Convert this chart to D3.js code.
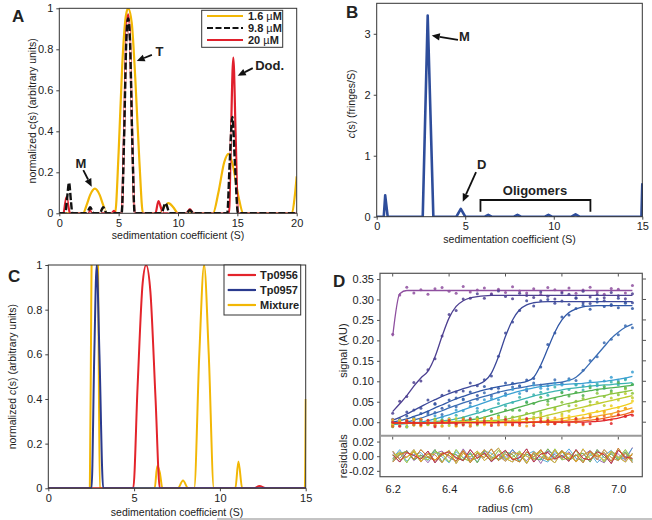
<!DOCTYPE html>
<html><head><meta charset="utf-8">
<script src="https://cdn.jsdelivr.net/npm/d3@7"></script>
<style>body{margin:0;background:#fff} text{font-family:'Liberation Sans',Arial,sans-serif;fill:#222}</style>
</head><body><svg id="c" width="652" height="520"></svg>
<script>
// ---------- Panel A data (s [S], normalized c(s)) ----------
const seriesA_names = ["1.6 \u00b5M", "9.8 \u00b5M", "20 \u00b5M"];
const conc16 = [[0,0],[2.0,0],[2.3,0.04],[2.6,0.09],[3.0,0.12],[3.4,0.09],[3.7,0.04],[4.0,0],[4.7,0],[5.0,0.3],[5.3,0.72],[5.6,0.96],[5.8,1.0],[6.1,0.93],[6.4,0.66],[6.75,0.25],[7.05,0],[8.5,0],[8.8,0.03],[9.2,0.05],[9.6,0.03],[10.0,0],[12.95,0],[13.4,0.1],[13.9,0.25],[14.25,0.29],[14.6,0.24],[15.1,0.08],[15.5,0],[19.6,0],[19.85,0.09],[20,0.18]];
const conc98 = [[0,0],[0.5,0],[0.65,0.07],[0.82,0.15],[0.98,0.06],[1.1,0],[2.3,0],[2.6,0.03],[2.9,0],[3.4,0],[3.7,0.03],[4.0,0],[5.25,0],[5.45,0.35],[5.65,0.85],[5.8,0.95],[5.95,0.85],[6.15,0.35],[6.35,0],[8.6,0],[8.95,0.05],[9.3,0],[10.7,0],[11.0,0.015],[11.3,0],[14.15,0],[14.35,0.24],[14.58,0.47],[14.8,0.24],[15.05,0],[20,0]];
const conc20 = [[0,0],[0.35,0],[0.5,0.05],[0.62,0.08],[0.75,0.04],[0.9,0],[2.4,0],[2.6,0.02],[2.8,0],[4.4,0],[4.6,0.012],[4.8,0],[5.25,0],[5.45,0.38],[5.65,0.88],[5.8,0.97],[5.95,0.86],[6.15,0.36],[6.35,0],[8.1,0],[8.35,0.06],[8.6,0.02],[8.75,0],[10.7,0],[11.0,0.02],[11.3,0],[14.3,0],[14.45,0.35],[14.66,0.76],[14.87,0.35],[15.05,0],[20,0]];
const ticksA_x = [0,5,10,15,20];
const ticksA_y = [0,0.2,0.4,0.6,0.8,1];

// ---------- Panel B data (s, c(s) fringes/S) ----------
const distB = [[0,0],[0.4,0],[0.48,0.35],[0.62,0],[2.6,0],[2.88,3.3],[3.2,0],[4.5,0],[4.75,0.13],[5.0,0],[6.1,0],[6.3,0.03],[6.5,0],[7.75,0],[7.95,0.03],[8.15,0],[9.5,0],[9.7,0.03],[9.9,0],[11.0,0],[11.23,0.04],[11.45,0],[14.95,0],[15,0.55]];
const ticksB_x = [0,5,10,15];
const ticksB_y = [0,1,2,3];

// ---------- Panel C data ----------
const seriesC_names = ["Tp0956", "Tp0957", "Mixture"];
const tp0956 = [[0,0],[4.95,0],[5.2,0.45],[5.5,0.92],[5.7,1.0],[5.95,0.88],[6.25,0.4],[6.5,0],[12.0,0],[12.3,0.01],[12.7,0],[15,0]];
const tp0957 = [[0,0],[2.52,0],[2.68,0.6],[2.82,1.0],[2.98,0.6],[3.2,0],[15,0]];
const mixture = [[0,0],[2.42,0],[2.5,0.8],[2.72,2.2],[2.92,0.8],[3.0,0],[6.2,0],[6.35,0.1],[6.5,0.07],[6.65,0],[7.55,0],[7.85,0.035],[8.15,0],[8.5,0],[8.8,0.6],[9.08,1.0],[9.35,0.6],[9.65,0],[10.9,0],[11.08,0.12],[11.3,0],[14.95,0],[15,0.4]];
const ticksC_x = [0,5,10,15];
const ticksC_y = [0,0.2,0.4,0.6,0.8,1];

// ---------- Panel D data (radius grid, fitted scans, residuals) ----------
const radii = [6.200,6.225,6.250,6.275,6.300,6.325,6.350,6.375,6.400,6.425,6.450,6.475,6.500,6.525,6.550,6.575,6.600,6.625,6.650,6.675,6.700,6.725,6.750,6.775,6.800,6.825,6.850,6.875,6.900,6.925,6.950,6.975,7.000,7.025,7.050];
const scan1 = [0.210,0.314,0.322,0.322,0.322,0.322,0.322,0.322,0.322,0.322,0.322,0.322,0.322,0.322,0.322,0.322,0.322,0.322,0.322,0.322,0.322,0.322,0.322,0.322,0.322,0.322,0.322,0.322,0.322,0.322,0.322,0.322,0.322,0.322,0.322];
const scan2 = [0.026,0.045,0.065,0.088,0.108,0.125,0.160,0.210,0.255,0.283,0.297,0.304,0.307,0.309,0.310,0.310,0.310,0.310,0.310,0.310,0.310,0.310,0.310,0.310,0.310,0.310,0.310,0.310,0.310,0.310,0.310,0.310,0.310,0.310,0.310];
const scan3 = [0.005,0.012,0.020,0.029,0.038,0.047,0.055,0.063,0.070,0.076,0.082,0.087,0.092,0.100,0.120,0.160,0.210,0.250,0.275,0.287,0.292,0.294,0.295,0.295,0.295,0.295,0.295,0.295,0.295,0.295,0.295,0.295,0.295,0.295,0.295];
const scan4 = [0.000,0.004,0.008,0.014,0.020,0.027,0.035,0.042,0.050,0.057,0.063,0.069,0.074,0.079,0.083,0.087,0.090,0.093,0.096,0.100,0.110,0.140,0.180,0.220,0.250,0.268,0.277,0.282,0.284,0.285,0.285,0.285,0.285,0.285,0.285];
const scan5 = [-0.005,-0.003,0.000,0.005,0.010,0.016,0.022,0.028,0.035,0.041,0.047,0.053,0.058,0.063,0.068,0.073,0.077,0.081,0.084,0.087,0.090,0.092,0.094,0.096,0.098,0.102,0.110,0.125,0.145,0.165,0.185,0.205,0.220,0.232,0.240];
const scan6 = [-0.005,-0.004,-0.003,-0.001,0.000,0.004,0.008,0.013,0.018,0.024,0.030,0.036,0.042,0.048,0.054,0.060,0.066,0.071,0.076,0.080,0.084,0.087,0.089,0.091,0.092,0.093,0.094,0.095,0.097,0.098,0.100,0.102,0.105,0.108,0.112];
const scan7 = [-0.004,-0.004,-0.003,-0.002,-0.001,0.000,0.001,0.003,0.005,0.008,0.012,0.017,0.022,0.027,0.033,0.038,0.044,0.049,0.054,0.059,0.064,0.068,0.072,0.076,0.079,0.082,0.084,0.086,0.088,0.090,0.091,0.092,0.094,0.095,0.097];
const scan8 = [-0.003,-0.003,-0.003,-0.002,-0.002,-0.001,-0.001,0.000,0.001,0.002,0.004,0.006,0.008,0.012,0.017,0.022,0.027,0.032,0.037,0.042,0.047,0.052,0.056,0.060,0.064,0.068,0.071,0.074,0.077,0.080,0.082,0.084,0.086,0.088,0.090];
const scan9 = [-0.002,-0.002,-0.002,-0.002,-0.001,-0.001,-0.001,0.000,0.000,0.000,0.001,0.001,0.002,0.003,0.004,0.005,0.007,0.011,0.015,0.019,0.024,0.028,0.033,0.037,0.042,0.046,0.050,0.054,0.058,0.062,0.065,0.069,0.072,0.075,0.078];
const scan10 = [-0.002,-0.002,-0.002,-0.001,-0.001,-0.001,-0.001,0.000,0.000,0.000,0.000,0.001,0.001,0.001,0.002,0.002,0.003,0.004,0.006,0.008,0.010,0.013,0.017,0.021,0.025,0.029,0.033,0.037,0.041,0.045,0.049,0.053,0.057,0.061,0.065];
const scan11 = [-0.001,-0.001,-0.001,-0.001,-0.001,-0.001,-0.001,0.000,0.000,0.000,0.000,0.000,0.000,0.000,0.001,0.001,0.001,0.001,0.001,0.001,0.001,0.002,0.004,0.006,0.009,0.012,0.015,0.018,0.022,0.025,0.029,0.033,0.037,0.042,0.048];
const scan12 = [-0.001,-0.001,-0.001,-0.001,-0.001,-0.001,-0.001,-0.001,0.000,0.000,0.000,0.000,0.000,0.000,0.000,0.000,0.001,0.001,0.001,0.001,0.001,0.001,0.001,0.002,0.003,0.005,0.007,0.009,0.012,0.015,0.018,0.021,0.025,0.030,0.035];
const scan13 = [-0.002,-0.002,-0.002,-0.002,-0.002,-0.002,-0.002,-0.002,-0.001,-0.001,-0.001,-0.001,-0.001,-0.001,-0.001,-0.001,0.000,0.000,0.000,0.000,0.000,0.000,0.000,0.000,0.000,0.001,0.002,0.003,0.005,0.007,0.010,0.013,0.016,0.020,0.025];
const scan14 = [-0.002,-0.002,-0.002,-0.002,-0.002,-0.002,-0.002,-0.002,-0.002,-0.002,-0.001,-0.001,-0.001,-0.001,-0.001,-0.001,-0.001,-0.001,-0.001,-0.001,0.000,0.000,0.000,0.000,0.000,0.000,0.000,0.000,0.001,0.002,0.004,0.007,0.010,0.015,0.020];
const scansD = [scan1,scan2,scan3,scan4,scan5,scan6,scan7,scan8,scan9,scan10,scan11,scan12,scan13,scan14];
// residuals (units of 0.001), one typed row per group of scans
const resid0 = [5,-3,8,-6,2,-9,4,7,-2,-7,10,-4,1,6,-8,3,-5,9,-1,-6,4,-10,7,2,-3,6,-7,1,8,-4,-9,5,3,-6,12];
const resid1 = [-4,6,-2,9,-7,3,-5,1,8,-10,4,-1,7,-6,2,11,-3,-8,5,0,-5,8,-2,-9,6,3,-7,10,-4,2,-6,7,-1,-8,4];
const resid2 = [2,-8,5,1,-4,7,-9,3,6,-2,-6,9,-3,4,-7,1,8,-5,-2,10,-8,3,5,-4,1,-7,9,-3,-5,6,2,-10,8,-1,-3];
const resid3 = [-6,3,7,-5,1,-2,9,-8,4,2,-6,5,-9,8,-1,-4,6,2,-7,3,-3,-5,10,-2,7,-6,1,4,-8,9,-2,3,-5,6,-7];
const resid4 = [7,-5,-1,6,-8,4,2,-9,5,-3,8,-6,-2,9,-4,1,-7,5,3,-10,6,-1,-5,8,-3,4,-8,2,6,-5,9,-2,-6,4,-9];
const resid5 = [-3,9,-7,2,5,-6,8,-1,-9,6,-2,3,-8,7,4,-5,-1,9,-6,2,7,-4,-8,5,-1,10,-3,-6,4,-9,1,8,-4,-2,11];
const resid6 = [1,4,-9,7,-2,-5,6,3,-8,9,-3,-7,5,2,-6,8,-4,-1,7,-9,3,5,-6,10,-5,-2,8,-7,1,4,-8,6,-3,9,-5];
const resid7 = [-8,2,6,-4,9,-1,-6,5,1,-7,7,-9,4,-2,10,-6,3,-3,-8,6,-1,9,-5,-3,8,-4,2,-9,7,-1,5,-7,11,-4,2];
const residRows = [resid0,resid1,resid2,resid3,resid4,resid5,resid6,resid7,resid3,resid6,resid1,resid4,resid7,resid2];
const ticksD_x = [6.2,6.4,6.6,6.8,7.0];
const ticksD_y = [0,0.05,0.10,0.15,0.20,0.25,0.30,0.35];
const ticksD_r = [-0.02,0,0.02];

// ---------- styling ----------
const colA = ["#f2b705","#111111","#e0202c"];
const colB = "#2e4d9b";
const colC = ["#e3242b","#2a3a8e","#f2b705"];
const colD = ["#8e4f9f","#4d3f90","#3c4899","#2f56a5","#3a6cb3","#3a9fd2","#3bb3b0","#4fb04f","#8cc43c","#bfcc2f","#f0cf1e","#f5a524","#ef6a22","#e1262b"];

const svg = d3.select("#c");
const defs = svg.append("defs");
let clipN = 0;
function clip(x0,y0,x1,y1){const id="cl"+(clipN++);defs.append("clipPath").attr("id",id).append("rect").attr("x",x0).attr("y",y0).attr("width",x1-x0).attr("height",y1-y0);return "url(#"+id+")";}

function axes(x, y, xt, yt, fx, fy, tfs){
  const [x0,x1]=x.range(), [y0,y1]=y.range();
  const gx = svg.append("g").attr("transform",`translate(0,${y0})`)
    .call(d3.axisBottom(x).tickValues(xt).tickSize(3).tickSizeOuter(0).tickPadding(3).tickFormat(fx));
  const gy = svg.append("g").attr("transform",`translate(${x0},0)`)
    .call(d3.axisLeft(y).tickValues(yt).tickSize(3).tickSizeOuter(0).tickPadding(3).tickFormat(fy));
  [gx,gy].forEach(g=>{g.select(".domain").remove();g.selectAll("line").attr("stroke","#444");
    g.selectAll("text").attr("font-size",tfs||11).attr("fill","#222").style("font-family","'Liberation Sans',Arial,sans-serif");});
  svg.append("rect").attr("x",x0).attr("y",y1).attr("width",x1-x0).attr("height",y0-y1)
    .attr("fill","none").attr("stroke","#333").attr("stroke-width",1);
}
function arrow(x1,y1,x2,y2){
  const a=Math.atan2(y2-y1,x2-x1), L=8, W=3.6;
  const bx=x2-L*Math.cos(a), by=y2-L*Math.sin(a);
  svg.append("line").attr("x1",x1).attr("y1",y1).attr("x2",bx).attr("y2",by).attr("stroke","#111").attr("stroke-width",1.8);
  svg.append("path").attr("d",`M${x2},${y2}L${bx-W*Math.sin(a)},${by+W*Math.cos(a)}L${bx+W*Math.sin(a)},${by-W*Math.cos(a)}Z`).attr("fill","#111");
}
function label(t,x,y){svg.append("text").attr("x",x).attr("y",y).attr("font-size",17).attr("font-weight","bold").attr("fill","#111").text(t);}
function ann(t,x,y,anchor){svg.append("text").attr("x",x).attr("y",y).attr("font-size",13).attr("font-weight","bold").attr("fill","#111").attr("text-anchor",anchor||"start").attr("dominant-baseline","middle").text(t);}
const fmtG = d3.format("~g");

// ================= Panel A =================
{
  const x=d3.scaleLinear().domain([0,20]).range([59.3,296.7]);
  const y=d3.scaleLinear().domain([0,1]).range([213.3,8.3]);
  const line=d3.line().x(d=>x(d[0])).y(d=>y(d[1])).curve(d3.curveMonotoneX);
  const g=svg.append("g").attr("clip-path",clip(59.3,8.3,296.7,213.3));
  g.append("path").attr("d",line(conc16)).attr("fill","none").attr("stroke",colA[0]).attr("stroke-width",2.2);
  g.append("path").attr("d",line(conc20)).attr("fill","none").attr("stroke",colA[2]).attr("stroke-width",2.2);
  g.append("path").attr("d",line(conc98)).attr("fill","none").attr("stroke","#fff").attr("stroke-width",1.2);
  g.append("path").attr("d",line(conc98)).attr("fill","none").attr("stroke",colA[1]).attr("stroke-width",2.4).attr("stroke-dasharray","7,2.5");
  axes(x,y,ticksA_x,ticksA_y,fmtG,fmtG,11);
  svg.append("text").attr("x",x(10)).attr("y",239).attr("text-anchor","middle").attr("font-size",10.5).text("sedimentation coefficient (S)");
  svg.append("text").attr("transform",`translate(36,${y(0.5)}) rotate(-90)`).attr("text-anchor","middle").attr("font-size",10.5).text("normalized c(s) (arbitrary units)");
  arrow(x(7.8),y(0.773),x(6.52),y(0.743)); ann("T",x(8.1),y(0.785));
  arrow(x(16.3),y(0.708),x(15.03),y(0.671)); ann("Dod.",x(16.5),y(0.715));
  arrow(x(2.02),y(0.211),x(2.73),y(0.13)); ann("M",x(1.83),y(0.24),"middle");
  svg.append("rect").attr("x",201.7).attr("y",10.3).attr("width",81).attr("height",37).attr("fill","#fff").attr("stroke","#333");
  const styles=[{c:colA[0],d:null},{c:colA[1],d:"6,2.5"},{c:colA[2],d:null}];
  seriesA_names.forEach((n,i)=>{
    const yy=16+i*12;
    svg.append("line").attr("x1",207).attr("x2",243).attr("y1",yy).attr("y2",yy).attr("stroke",styles[i].c).attr("stroke-width",2.2).attr("stroke-dasharray",styles[i].d);
    const t=svg.append("text").attr("x",248).attr("y",yy+4).attr("font-size",11).attr("font-weight","bold").attr("fill","#111");
    const parts=n.split("\u00b5");
    t.append("tspan").text(parts[0]); t.append("tspan").attr("font-weight","normal").text("\u00b5"); t.append("tspan").text(parts[1]);
  });
  label("A",12,22);
}

// ================= Panel B =================
{
  const x=d3.scaleLinear().domain([0,15]).range([376.7,642.3]);
  const y=d3.scaleLinear().domain([0,3.5]).range([216.7,3.3]);
  const line=d3.line().x(d=>x(d[0])).y(d=>y(d[1]));
  const g=svg.append("g").attr("clip-path",clip(376.7,3.3,643,216.7));
  g.append("path").attr("d",line(distB)).attr("fill","none").attr("stroke",colB).attr("stroke-width",2.6).attr("stroke-linejoin","round");
  axes(x,y,ticksB_x,ticksB_y,fmtG,fmtG,11);
  svg.append("text").attr("x",x(7.5)).attr("y",243).attr("text-anchor","middle").attr("font-size",10.5).text("sedimentation coefficient (S)");
  const yl=svg.append("text").attr("transform",`translate(355,${y(1.85)}) rotate(-90)`).attr("text-anchor","middle").attr("font-size",10.5);
  yl.append("tspan").attr("font-style","italic").text("c"); yl.append("tspan").text("(s) (fringes/S)");
  arrow(x(4.59),y(2.9),x(3.11),y(2.97)); ann("M",x(4.65),y(2.93));
  arrow(x(5.61),y(0.733),x(4.86),y(0.246)); ann("D",x(5.93),y(0.84),"middle");
  svg.append("path").attr("d",`M${x(5.86)},${y(0.082)}V${y(0.274)}H${x(12.07)}V${y(0.082)}`).attr("fill","none").attr("stroke","#111").attr("stroke-width",1.8);
  ann("Oligomers",x(8.94),y(0.41),"middle");
  label("B",346,18);
}

// ================= Panel C =================
{
  const x=d3.scaleLinear().domain([0,15]).range([48.3,305.7]);
  const y=d3.scaleLinear().domain([0,1]).range([488.3,265]);
  const line=d3.line().x(d=>x(d[0])).y(d=>y(d[1])).curve(d3.curveMonotoneX);
  const g=svg.append("g").attr("clip-path",clip(48.3,265,306.5,488.3));
  g.append("path").attr("d",line(mixture)).attr("fill","none").attr("stroke",colC[2]).attr("stroke-width",2);
  g.append("path").attr("d",line(tp0956)).attr("fill","none").attr("stroke",colC[0]).attr("stroke-width",2);
  g.append("path").attr("d",line(tp0957)).attr("fill","none").attr("stroke",colC[1]).attr("stroke-width",2);
  axes(x,y,ticksC_x,ticksC_y,fmtG,fmtG,11);
  svg.append("text").attr("x",x(7.5)).attr("y",515.5).attr("text-anchor","middle").attr("font-size",10.5).text("sedimentation coefficient (S)");
  const yl=svg.append("text").attr("transform",`translate(16,${y(0.5)}) rotate(-90)`).attr("text-anchor","middle").attr("font-size",10.5);
  yl.append("tspan").text("normalized "); yl.append("tspan").attr("font-style","italic").text("c"); yl.append("tspan").text("(s) (arbitrary units)");
  svg.append("rect").attr("x",224).attr("y",265).attr("width",76.7).attr("height",50).attr("fill","#fff").attr("stroke","#333");
  seriesC_names.forEach((n,i)=>{
    const yy=275+i*15;
    svg.append("line").attr("x1",227.7).attr("x2",256).attr("y1",yy).attr("y2",yy).attr("stroke",colC[i]).attr("stroke-width",2.2);
    svg.append("text").attr("x",260).attr("y",yy+4).attr("font-size",11).attr("font-weight","bold").attr("fill","#111").text(n);
  });
  label("C",8,282);
}

// ================= Panel D =================
{
  const x=d3.scaleLinear().domain([6.155,7.085]).range([380,642.3]);
  const y=d3.scaleLinear().domain([-0.033,0.364]).range([435.7,273.3]);
  const yr=d3.scaleLinear().domain([-0.028,0.028]).range([476.7,435.7]);
  const g=svg.append("g").attr("clip-path",clip(380,273.3,642.3,435.7));
  const gr=svg.append("g").attr("clip-path",clip(380,435.7,642.3,476.7));
  const fit=d3.line().x((d,i)=>x(radii[i])).y(d=>y(d)).curve(d3.curveMonotoneX);
  const rl=d3.line().x((d,i)=>x(radii[i])).y(d=>yr(d/1000));
  scansD.forEach((s,k)=>{
    const res=residRows[k];
    g.append("g").selectAll("circle").data(s).join("circle")
      .attr("cx",(d,i)=>x(radii[i])).attr("cy",(d,i)=>y(d+res[i]/1000)).attr("r",1.5).attr("fill",colD[k]).attr("opacity",0.85);
    g.append("path").attr("d",fit(s)).attr("fill","none").attr("stroke",colD[k]).attr("stroke-width",1.3);
  });
  scansD.forEach((s,k)=>{
    gr.append("path").attr("d",rl(residRows[k])).attr("fill","none").attr("stroke",colD[k]).attr("stroke-width",1).attr("opacity",0.85);
  });
  const fy=d3.format(".2f");
  const ax=svg.append("g").attr("transform","translate(0,476.7)").call(d3.axisBottom(x).tickValues(ticksD_x).tickSize(0).tickPadding(9).tickFormat(d3.format(".1f")));
  const ay=svg.append("g").attr("transform","translate(380,0)").call(d3.axisLeft(y).tickValues(ticksD_y).tickSize(3).tickPadding(3).tickFormat(fy));
  const ar=svg.append("g").attr("transform","translate(380,0)").call(d3.axisLeft(yr).tickValues(ticksD_r).tickSize(3).tickPadding(3).tickFormat(d=>fy(d).replace("\u2212","-")));
  [ax,ay,ar].forEach(a=>{a.select(".domain").remove();a.selectAll("line").attr("stroke","#555");a.selectAll("text").attr("font-size",11).attr("fill","#222").style("font-family","'Liberation Sans',Arial,sans-serif");});
  svg.append("g").selectAll("line").data(ticksD_x).join("line").attr("x1",d=>x(d)).attr("x2",d=>x(d)).attr("y1",273.3).attr("y2",276.5).attr("stroke","#555");
  svg.append("g").selectAll("line").data(ticksD_x).join("line").attr("x1",d=>x(d)).attr("x2",d=>x(d)).attr("y1",436.5).attr("y2",439.5).attr("stroke","#555");
  svg.append("g").selectAll("line").data(ticksD_y).join("line").attr("x1",642.3).attr("x2",646).attr("y1",d=>y(d)).attr("y2",d=>y(d)).attr("stroke","#555");
  svg.append("rect").attr("x",380).attr("y",273.3).attr("width",262.3).attr("height",203.4).attr("fill","none").attr("stroke","#555").attr("stroke-width",1.2);
  svg.append("line").attr("x1",380).attr("x2",642.3).attr("y1",435.7).attr("y2",435.7).attr("stroke","#999").attr("stroke-width",2);
  svg.append("text").attr("x",x(6.6)).attr("y",512).attr("text-anchor","middle").attr("font-size",11).text("radius (cm)");
  svg.append("text").attr("transform",`translate(347,${y(0.175)}) rotate(-90)`).attr("text-anchor","middle").attr("font-size",11).text("signal (AU)");
  svg.append("text").attr("transform",`translate(347,${yr(0)}) rotate(-90)`).attr("text-anchor","middle").attr("font-size",11).text("residuals");
  label("D",333,287);
  svg.append("line").attr("x1",217).attr("x2",652).attr("y1",519).attr("y2",519).attr("stroke","#888").attr("stroke-width",1);
}
</script></body></html>
